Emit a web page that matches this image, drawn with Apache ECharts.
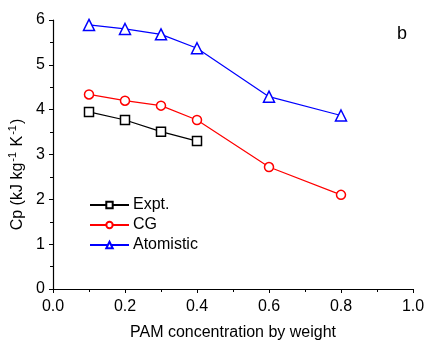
<!DOCTYPE html>
<html><head><meta charset="utf-8">
<script src="https://cdn.jsdelivr.net/npm/echarts@6/dist/echarts.min.js"></script>
<style>html,body{margin:0;padding:0;background:#fff}#c{width:426px;height:340px}</style>
</head><body><div id="c"></div>
<script>
const xExpt = [0.1, 0.2, 0.3, 0.4];
const yExpt = [3.95, 3.77, 3.51, 3.30];
const xCG = [0.1, 0.2, 0.3, 0.4, 0.6, 0.8];
const yCG = [4.34, 4.20, 4.09, 3.77, 2.72, 2.10];
const xAtom = [0.1, 0.2, 0.3, 0.4, 0.6, 0.8];
const yAtom = [5.89, 5.80, 5.68, 5.37, 4.29, 3.87];
const seriesNames = ['Expt.', 'CG', 'Atomistic'];
const font = 'Liberation Sans, Arial, sans-serif';

const chart = echarts.init(document.getElementById('c'));
function mk(name, xs, ys, color, symbol) {
  return {
    name, type: 'line', data: xs.map((x, i) => [x, ys[i]]),
    symbol, symbolSize: symbol === 'triangle' ? 11 : 9,
    lineStyle: {color, width: 1.2},
    itemStyle: {color: '#fff', borderColor: color, borderWidth: 1.5},
    emphasis: {disabled: true}
  };
}
chart.setOption({
  animation: false,
  grid: {left: 53, right: 13, top: 20, bottom: 51, outerBoundsMode: 'none', containLabel: false},
  legend: {
    orient: 'vertical', left: 84, top: 192, itemGap: 4, itemWidth: 39, itemHeight: 8,
    data: seriesNames,
    textStyle: {fontFamily: font, fontSize: 16, color: '#000', padding: [0, 0, 0, -1], lineHeight: 16}
  },
  xAxis: {
    type: 'value', min: 0, max: 1, interval: 0.2,
    name: 'PAM concentration by weight', nameLocation: 'middle', nameGap: 36,
    nameTextStyle: {fontFamily: font, fontSize: 16, color: '#000'},
    axisLine: {lineStyle: {color: '#000', width: 1.2}},
    axisTick: {show: true, length: 4, lineStyle: {color: '#000'}},
    minorTick: {show: true, splitNumber: 2, length: 3, lineStyle: {color: '#000'}},
    splitLine: {show: false},
    axisLabel: {fontFamily: font, fontSize: 16, color: '#000', margin: 10, formatter: v => v.toFixed(1)}
  },
  yAxis: {
    type: 'value', min: 0, max: 6, interval: 1,
    name: '{n|Cp (kJ kg}{s|-1}{n| K}{s|-1}{n|)}', nameLocation: 'middle', nameGap: 17,
    nameTextStyle: {
      padding: [0, 40, 0, 0],
      rich: {
        n: {fontFamily: font, fontSize: 16, color: '#000'},
        s: {fontFamily: font, fontSize: 11, color: '#000', verticalAlign: 'top', padding: [0, 1, 8, 1]}
      }
    },
    axisLine: {show: true, lineStyle: {color: '#000', width: 1.2}},
    axisTick: {show: true, length: 4, lineStyle: {color: '#000'}},
    minorTick: {show: true, splitNumber: 2, length: 3, lineStyle: {color: '#000'}},
    splitLine: {show: false},
    axisLabel: {fontFamily: font, fontSize: 16, color: '#000', margin: 8}
  },
  graphic: [{type: 'text', left: 397, top: 25, style: {text: 'b', fontFamily: font, fontSize: 18, fill: '#000'}}],
  series: [
    mk('Expt.', xExpt, yExpt, '#000', 'rect'),
    mk('CG', xCG, yCG, '#ff0000', 'circle'),
    mk('Atomistic', xAtom, yAtom, '#0000ff', 'triangle')
  ]
});
</script></body></html>
